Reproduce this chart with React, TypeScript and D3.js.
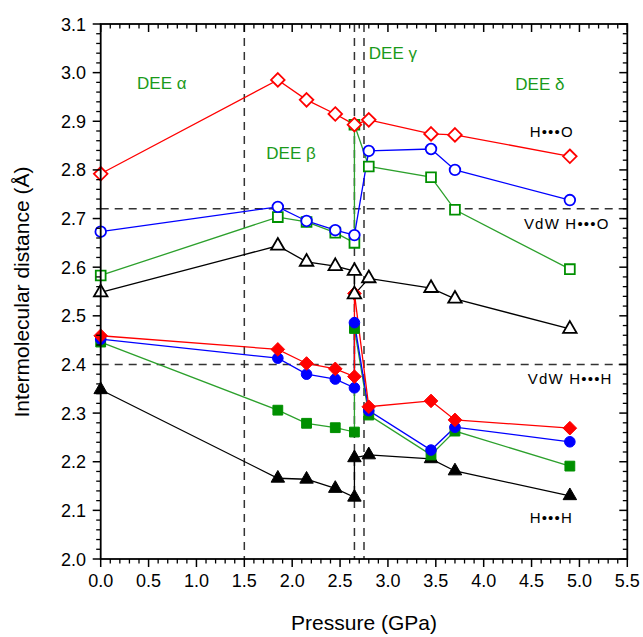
import React from "react";
import * as d3 from "d3";

// ---------- DATA ----------
const pressure = [0, 1.85, 2.15, 2.45, 2.65, 2.8, 3.45, 3.7, 4.9];
const pressureSpike = [0, 1.85, 2.15, 2.45, 2.65, 2.65, 2.8, 3.45, 3.7, 4.9];

// H...O (open markers)
const redOpen = [2.792, 2.985, 2.944, 2.915, 2.893, 2.903, 2.874, 2.872, 2.828];
const blueOpen = [2.673, 2.724, 2.695, 2.676, 2.666, 2.839, 2.843, 2.8, 2.738];
const greenOpen = [2.583, 2.703, 2.693, 2.671, 2.65, 2.893, 2.807, 2.785, 2.718, 2.596];
const blackOpen = [2.548, 2.644, 2.611, 2.602, 2.592, 2.544, 2.577, 2.557, 2.535, 2.473];

// H...H (filled markers)
const redFilled = [2.459, 2.431, 2.402, 2.391, 2.375, 2.546, 2.313, 2.325, 2.286, 2.269];
const blueFilled = [2.452, 2.413, 2.38, 2.37, 2.352, 2.486, 2.305, 2.224, 2.271, 2.241];
const greenFilled = [2.446, 2.306, 2.279, 2.27, 2.261, 2.474, 2.296, 2.214, 2.263, 2.191];
const blackFilled = [2.348, 2.166, 2.164, 2.145, 2.127, 2.208, 2.214, 2.206, 2.181, 2.13];

const xTickLabels = ["0.0", "0.5", "1.0", "1.5", "2.0", "2.5", "3.0", "3.5", "4.0", "4.5", "5.0", "5.5"];
const yTickLabels = ["2.0", "2.1", "2.2", "2.3", "2.4", "2.5", "2.6", "2.7", "2.8", "2.9", "3.0", "3.1"];

const phaseLines = [1.5, 2.65, 2.75];
const vdwLines = [2.72, 2.4];

const phaseLabels = [
  { text: "DEE α", x: 0.38, y: 2.966 },
  { text: "DEE β", x: 1.73, y: 2.822 },
  { text: "DEE γ", x: 2.8, y: 3.028 },
  { text: "DEE δ", x: 4.33, y: 2.964 },
];
const refLabels = [
  { text: "H•••O", x: 4.48, y: 2.867 },
  { text: "VdW H•••O", x: 4.42, y: 2.678 },
  { text: "VdW H•••H", x: 4.46, y: 2.36 },
  { text: "H•••H", x: 4.48, y: 2.073 },
];

// ---------- LAYOUT ----------
const W = 643, H = 637;
const L = 100.7, R = 627.3, T = 24, B = 559;
const x = d3.scaleLinear().domain([0, 5.5]).range([L, R]);
const y = d3.scaleLinear().domain([2.0, 3.1]).range([B, T]);

const RED = "#ff0000", BLUE = "#0000ff", GREEN = "#009000", BLACK = "#000000";
const LINE_GREEN = "#2ca02c";
const TEXT_GREEN = "#1a9a1a";
const FONT = "Arial, 'Liberation Sans', Helvetica, sans-serif";

type Shape = "diamond" | "circle" | "square" | "triangle";

function markerPath(shape: Shape, cx: number, cy: number): string {
  const p = d3.path();
  if (shape === "diamond") {
    const r = 6.8;
    p.moveTo(cx, cy - r); p.lineTo(cx + r, cy); p.lineTo(cx, cy + r); p.lineTo(cx - r, cy); p.closePath();
  } else if (shape === "circle") {
    p.arc(cx, cy, 5.3, 0, Math.PI * 2); p.closePath();
  } else if (shape === "square") {
    const h = 4.9;
    p.rect(cx - h, cy - h, 2 * h, 2 * h);
  } else {
    const s = 13.5;
    const hgt = (s * Math.sqrt(3)) / 2;
    p.moveTo(cx, cy - (2 * hgt) / 3); p.lineTo(cx + s / 2, cy + hgt / 3); p.lineTo(cx - s / 2, cy + hgt / 3); p.closePath();
  }
  return p.toString();
}

interface Series { xs: number[]; ys: number[]; color: string; line: string; shape: Shape; filled: boolean; }

const series: Series[] = [
  { xs: pressureSpike, ys: blackFilled, color: BLACK, line: BLACK, shape: "triangle", filled: true },
  { xs: pressureSpike, ys: greenFilled, color: GREEN, line: LINE_GREEN, shape: "square", filled: true },
  { xs: pressureSpike, ys: blueFilled, color: BLUE, line: BLUE, shape: "circle", filled: true },
  { xs: pressureSpike, ys: redFilled, color: RED, line: RED, shape: "diamond", filled: true },
  { xs: pressureSpike, ys: greenOpen, color: GREEN, line: LINE_GREEN, shape: "square", filled: false },
  { xs: pressure, ys: blueOpen, color: BLUE, line: BLUE, shape: "circle", filled: false },
  { xs: pressure, ys: redOpen, color: RED, line: RED, shape: "diamond", filled: false },
  { xs: pressureSpike, ys: blackOpen, color: BLACK, line: BLACK, shape: "triangle", filled: false },
];

export default function App() {
  const lineGen = d3.line<[number, number]>().x((d) => x(d[0])).y((d) => y(d[1]));
  const xMajor = d3.range(0, 12).map((i) => i * 0.5);
  const xMinor = d3.range(0, 56).map((i) => i * 0.1).filter((_, i) => i % 5 !== 0);
  const yMajor = d3.range(0, 12).map((i) => 2.0 + i * 0.1);
  const yMinor = d3.range(0, 56).map((i) => 2.0 + i * 0.02).filter((_, i) => i % 5 !== 0);
  const MAJ = 8, MIN = 4.5;

  return (
    <svg width={W} height={H} style={{ position: "absolute", left: 0, top: 0, background: "#fff" }}>
      <rect x={0} y={0} width={W} height={H} fill="#fff" />
      {/* reference dashed lines */}
      {phaseLines.map((p, i) => (
        <line key={"pl" + i} x1={x(p)} x2={x(p)} y1={T} y2={B} stroke="#333" strokeWidth={1.5} strokeDasharray="8,6" />
      ))}
      {vdwLines.map((v, i) => (
        <line key={"vl" + i} x1={L} x2={R} y1={y(v)} y2={y(v)} stroke="#333" strokeWidth={1.5} strokeDasharray="8,6" />
      ))}

      {/* series lines */}
      {series.map((s, i) => (
        <path key={"ln" + i} d={lineGen(s.xs.map((v, j) => [v, s.ys[j]] as [number, number])) || ""} fill="none" stroke={s.line} strokeWidth={1.3} />
      ))}
      {/* markers */}
      {series.map((s, i) => (
        <g key={"mk" + i}>
          {s.xs.map((v, j) => (
            <path key={j} d={markerPath(s.shape, x(v), y(s.ys[j]))} fill={s.filled ? s.color : "#fff"} stroke={s.color} strokeWidth={s.filled ? 1 : 1.8} />
          ))}
        </g>
      ))}

      {/* frame */}
      <rect x={L} y={T} width={R - L} height={B - T} fill="none" stroke="#000" strokeWidth={1.8} />

      {/* x ticks bottom (outward) and top (inward) */}
      {xMajor.map((v, i) => (
        <g key={"xM" + i}>
          <line x1={x(v)} x2={x(v)} y1={B} y2={B + MAJ} stroke="#000" strokeWidth={1.5} />
          <line x1={x(v)} x2={x(v)} y1={T} y2={T + MAJ} stroke="#000" strokeWidth={1.5} />
          <text x={x(v)} y={587} textAnchor="middle" fontFamily={FONT} fontSize={18} fill="#000">{xTickLabels[i]}</text>
        </g>
      ))}
      {xMinor.map((v, i) => (
        <g key={"xm" + i}>
          <line x1={x(v)} x2={x(v)} y1={B} y2={B + MIN} stroke="#000" strokeWidth={1.3} />
          <line x1={x(v)} x2={x(v)} y1={T} y2={T + MIN} stroke="#000" strokeWidth={1.3} />
        </g>
      ))}
      {/* y ticks left (outward) and right (inward) */}
      {yMajor.map((v, i) => (
        <g key={"yM" + i}>
          <line x1={L - MAJ} x2={L} y1={y(v)} y2={y(v)} stroke="#000" strokeWidth={1.5} />
          <line x1={R - MAJ} x2={R} y1={y(v)} y2={y(v)} stroke="#000" strokeWidth={1.5} />
          <text x={86} y={y(v) + 6.5} textAnchor="end" fontFamily={FONT} fontSize={18} fill="#000">{yTickLabels[i]}</text>
        </g>
      ))}
      {yMinor.map((v, i) => (
        <g key={"ym" + i}>
          <line x1={L - MIN} x2={L} y1={y(v)} y2={y(v)} stroke="#000" strokeWidth={1.3} />
          <line x1={R - MIN} x2={R} y1={y(v)} y2={y(v)} stroke="#000" strokeWidth={1.3} />
        </g>
      ))}

      {/* phase labels */}
      {phaseLabels.map((p, i) => (
        <text key={"ph" + i} x={x(p.x)} y={y(p.y)} fontFamily={FONT} fontSize={17} fill={TEXT_GREEN}>{p.text}</text>
      ))}
      {/* reference labels */}
      {refLabels.map((p, i) => (
        <text key={"rf" + i} x={x(p.x)} y={y(p.y)} fontFamily={FONT} fontSize={15} letterSpacing={1.2} fill="#000">{p.text}</text>
      ))}

      {/* axis titles */}
      <text x={364} y={630} textAnchor="middle" fontFamily={FONT} fontSize={21} fill="#000">Pressure (GPa)</text>
      <text transform="translate(29,292) rotate(-90)" textAnchor="middle" fontFamily={FONT} fontSize={21} fill="#000">Intermolecular distance (Å)</text>
    </svg>
  );
}
